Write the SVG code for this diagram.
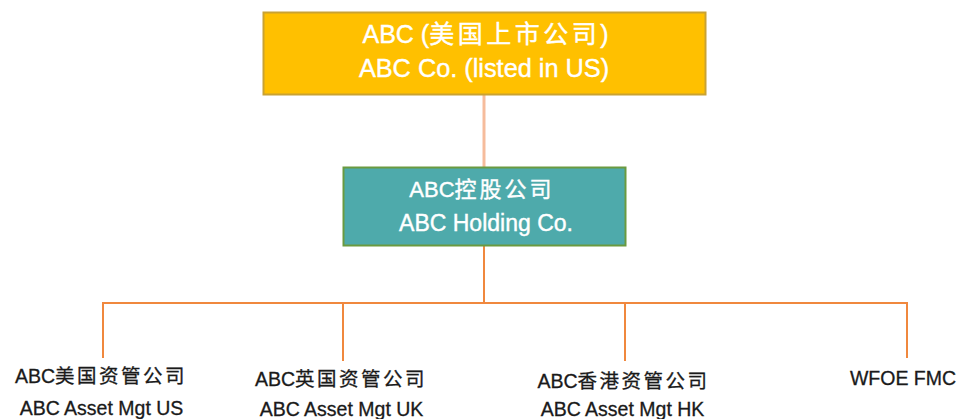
<svg xmlns="http://www.w3.org/2000/svg" width="963" height="419" viewBox="0 0 963 419">
<style>
.t{font-family:"Liberation Sans","Noto Sans CJK SC",sans-serif;text-anchor:middle}
.w{fill:#ffffff;stroke:#ffffff;stroke-width:0.4}
.k{fill:#1a1a1a;stroke:#1a1a1a;stroke-width:0.3;font-size:19.5px}
.cj{letter-spacing:2.5px}
.c{fill:none;stroke:#F0883E;stroke-width:2}
</style>
<rect width="963" height="419" fill="#ffffff"/>
<g id="connectors">
<line x1="484" y1="95" x2="484" y2="167" stroke="#F6BC9C" stroke-width="3"/>
<line class="c" x1="484" y1="246" x2="484" y2="303"/>
<line class="c" x1="103" y1="303" x2="907" y2="303"/>
<line class="c" x1="103" y1="302" x2="103" y2="358"/>
<line class="c" x1="343" y1="302" x2="343" y2="361"/>
<line class="c" x1="625" y1="302" x2="625" y2="361"/>
<line class="c" x1="907" y1="302" x2="907" y2="358"/>
</g>
<g id="n_top">
<rect x="263.5" y="12.5" width="442" height="82" fill="#FFC000" stroke="#C9A233" stroke-width="2"/>
<text class="t w" x="485.5" y="43" font-size="25">ABC (<tspan letter-spacing="3.5">美国上市公司</tspan><tspan letter-spacing="0">)</tspan></text>
<text class="t w" x="484" y="77" font-size="25.3">ABC Co. (listed in US)</text>
</g>
<g id="n_holding">
<rect x="343.5" y="167.5" width="282" height="78" fill="#4EAAAB" stroke="#6A9A40" stroke-width="2"/>
<text class="t w" x="482" y="197" font-size="22">ABC<tspan letter-spacing="3">控股公司</tspan></text>
<text class="t w" x="486" y="231" font-size="23">ABC Holding Co.</text>
</g>
<g id="n_us">
<text class="t k" x="101" y="383">ABC<tspan class="cj">美国资管公司</tspan></text>
<text class="t k" x="101.5" y="415">ABC Asset Mgt US</text>
</g>
<g id="n_uk">
<text class="t k" x="341" y="386">ABC<tspan class="cj">英国资管公司</tspan></text>
<text class="t k" x="341.5" y="416">ABC Asset Mgt UK</text>
</g>
<g id="n_hk">
<text class="t k" x="623.5" y="388">ABC<tspan class="cj">香港资管公司</tspan></text>
<text class="t k" x="622.5" y="416">ABC Asset Mgt HK</text>
</g>
<g id="n_wfoe">
<text class="t k" x="903" y="385">WFOE FMC</text>
</g>
</svg>
